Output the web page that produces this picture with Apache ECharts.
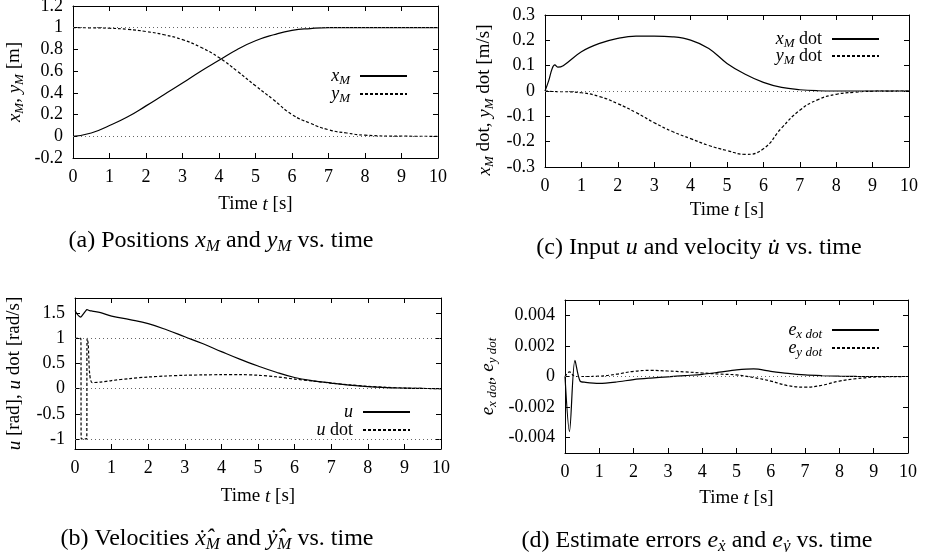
<!DOCTYPE html>
<html><head><meta charset="utf-8">
<script src="https://cdn.jsdelivr.net/npm/echarts@6/dist/echarts.min.js"></script>
<style>html,body{margin:0;padding:0;background:#fff}#c{width:933px;height:552px}</style>
</head><body><div id="c"></div>
<script>
// ---------- data ----------
// (a) positions
const tA = [0,0.5,1,1.5,2,2.5,3,3.5,4,4.5,5,5.5,6,6.5,7,7.5,8,9,10];
const xM = [0,0.03,0.1,0.18,0.28,0.385,0.49,0.6,0.7,0.8,0.88,0.935,0.975,0.992,1.0,1,1,1,1];
const yM = [1,0.999,0.995,0.985,0.965,0.935,0.89,0.82,0.725,0.6,0.465,0.335,0.2,0.12,0.06,0.03,0.01,0.001,0];
// (c) velocities
const tC = [0,0.1,0.2,0.27,0.35,0.5,1,1.5,2,2.5,3,3.5,4,4.5,5,5.5,6,6.5,7,7.5,8,8.5,9,10];
const xMdot = [0,0.04,0.09,0.103,0.094,0.1,0.155,0.188,0.208,0.217,0.217,0.214,0.201,0.168,0.109,0.066,0.034,0.014,0.005,0.001,0,0,0,0];
const yMdot = [0,-0.001,-0.002,-0.002,-0.003,-0.003,-0.007,-0.022,-0.05,-0.085,-0.125,-0.16,-0.188,-0.215,-0.235,-0.25,-0.228,-0.146,-0.076,-0.034,-0.013,-0.005,-0.001,0];
// (b) input u and u dot
const tB = [0,0.16,0.17,0.32,0.33,0.36,0.4,0.47,0.7,1,1.5,2,2.5,3,3.5,4,4.5,5,5.5,6,6.5,7,7.5,8,8.5,9,9.5,10];
const u = [1.55,1.42,1.43,1.57,1.575,1.56,1.55,1.54,1.51,1.44,1.37,1.29,1.17,1.03,0.89,0.735,0.585,0.45,0.325,0.22,0.155,0.11,0.07,0.04,0.02,0.01,0.003,0];
const uDot = [1,1,-1,-1,1,0.9,0.3,0.12,0.13,0.16,0.2,0.23,0.25,0.265,0.272,0.277,0.278,0.265,0.235,0.19,0.15,0.11,0.075,0.045,0.025,0.01,0.003,0];
// (d) estimate errors
const tD = [0,0.13,0.29,0.44,0.6,1,1.5,2,2.5,3,3.5,4,4.5,5,5.5,6,6.5,7,7.5,8,8.5,9,10];
const exDot = [0,-0.0036,0.00105,-0.0003,-0.00038,-0.00045,-0.00036,-0.0002,-0.0001,-0.00002,0.00006,0.00014,0.00028,0.00043,0.0005,0.00034,0.0002,0.0001,0.00005,0.00002,0.000005,0,0];
const eyDot = [0,0.0003,0,0,0,0.00002,0.00015,0.00034,0.0004,0.00036,0.0003,0.00023,0.00016,0.0001,-0.00007,-0.0003,-0.0006,-0.0007,-0.00057,-0.0003,-0.00014,-0.00004,0];
// tick values
const yTicksB = [-1,-0.5,0,0.5,1,1.5];
const yTicksD = [-0.004,-0.002,0,0.002,0.004];
// texts
const captions = [
  '{n|(a) Positions }{i|x}{s|M}{n| and }{i|y}{s|M}{n| vs. time}',
  '{n|(c) Input }{i|u}{n| and velocity }{i|u\u0307}{n| vs. time}',
  '{n|(b) Velocities }{i|x\u0307\u0302}{s|M}{n| and }{i|y\u0307\u0302}{s|M}{n| vs. time}',
  '{n|(d) Estimate errors }{i|e}{s|x\u0307}{n| and }{i|e}{s|y\u0307}{n| vs. time}'
];
const yNames = [
  '{i|x}{s|M}{n|, }{i|y}{s|M}{n| [m]}',
  '{i|x}{s|M}{n| dot, }{i|y}{s|M}{n| dot [m/s]}',
  '{i|u}{n| [rad], }{i|u}{n| dot [rad/s]}',
  '{i|e}{s|x dot}{n|, }{i|e}{s|y dot}'
];
const xName = '{n|Time }{i|t}{n| [s]}';
const legendLabels = {
  xM: '{i|x}{s|M}', yM: '{i|y}{s|M}',
  xMdot: '{i|x}{s|M}{n| dot}', yMdot: '{i|y}{s|M}{n| dot}',
  u: '{i|u}', udot: '{i|u}{n| dot}',
  exdot: '{i|e}{s|x dot}', eydot: '{i|e}{s|y dot}'
};

// ---------- styles ----------
const FONT = '"Liberation Serif","Times New Roman",serif';
function rich(fs, sub, drop) {
  return {
    n: {fontFamily: FONT, fontSize: fs, color: '#000', lineHeight: fs + 4},
    i: {fontFamily: FONT, fontSize: fs, fontStyle: 'italic', color: '#000', lineHeight: fs + 4},
    s: {fontFamily: FONT, fontSize: sub, fontStyle: 'italic', color: '#000', lineHeight: sub - drop, verticalAlign: 'bottom'}
  };
}
const R18 = rich(18, 13, 2);
const R19 = rich(19, 13, 2);
const R24 = rich(24, 17, 2);

const grids = [
  {left: 73, right: 495, top: 6, bottom: 394},
  {left: 545, right: 24, top: 15, bottom: 385},
  {left: 75, right: 492, top: 298, bottom: 103},
  {left: 565, right: 25, top: 300, bottom: 99}
];
const yCfg = [
  {min: -0.2, max: 1.2, interval: 0.2, gap: 47, pad: 0},
  {min: -0.3, max: 0.3, interval: 0.1, gap: 49, pad: 18},
  {min: -1.2, max: 1.8, ticks: yTicksB, gap: 49, pad: 0},
  {min: -0.005, max: 0.005, ticks: yTicksD, gap: 66, pad: 0}
];
const xNameGap = [35, 32, 36, 34];

const xAxes = [], yAxes = [];
grids.forEach((g, i) => {
  const base = {
    type: 'value', gridIndex: i, min: 0, max: 10, interval: 1,
    axisLine: {onZero: false, lineStyle: {color: '#000', width: 1}},
    axisTick: {inside: true, length: 5, lineStyle: {color: '#000', width: 1}},
    splitLine: {show: false}
  };
  xAxes.push(Object.assign({}, base, {
    position: 'bottom',
    axisLabel: {color: '#000', fontFamily: FONT, fontSize: 18, margin: 10},
    name: xName, nameLocation: 'middle', nameGap: xNameGap[i],
    nameTextStyle: {rich: R19}
  }));
  xAxes.push(Object.assign({}, base, {position: 'top', axisLabel: {show: false}}));
  const c = yCfg[i];
  const yb = {
    type: 'value', gridIndex: i, min: c.min, max: c.max,
    axisLine: {onZero: false, lineStyle: {color: '#000', width: 1}},
    axisTick: {inside: true, length: 5, lineStyle: {color: '#000', width: 1}},
    splitLine: {show: false}
  };
  if (c.interval) yb.interval = c.interval;
  if (c.ticks) yb.axisTick.customValues = c.ticks;
  yAxes.push(Object.assign({}, yb, {
    position: 'left',
    axisLabel: Object.assign({color: '#000', fontFamily: FONT, fontSize: 18, margin: 10},
      c.ticks ? {customValues: c.ticks} : {}),
    name: yNames[i], nameLocation: 'middle', nameGap: c.gap, nameRotate: 90,
    nameTextStyle: {rich: R19, padding: [0, c.pad, 0, 0]}
  }));
  yAxes.push(Object.assign({}, yb, {position: 'right', axisLabel: {show: false},
    axisTick: Object.assign({}, yb.axisTick)}));
});

const dotted = {type: [1, 3], color: '#666', width: 1};
function mk(vals) {
  return {silent: true, symbol: ['none', 'none'], label: {show: false}, lineStyle: dotted,
    animation: false, data: vals.map(v => ({yAxis: v}))};
}
function line(name, t, v, gi, dashed, smooth, marks) {
  const s = {
    name, type: 'line', xAxisIndex: gi * 2, yAxisIndex: gi * 2,
    data: t.map((x, k) => [x, v[k]]),
    symbol: 'none', showSymbol: false, smooth: smooth,
    lineStyle: {color: '#000', width: 1.2, type: dashed ? [3, 2] : 'solid'},
    itemStyle: {color: '#000'},
    animation: false
  };
  if (marks) s.markLine = mk(marks);
  return s;
}
const series = [
  line('xM', tA, xM, 0, false, 0.5, [0, 1]),
  line('yM', tA, yM, 0, true, 0.5),
  line('xMdot', tC, xMdot, 1, false, 0.4, [0]),
  line('yMdot', tC, yMdot, 1, true, 0.5),
  line('u', tB, u, 2, false, 0.4, [-1, 0, 1]),
  line('udot', tB, uDot, 2, true, 0.3),
  line('exdot', tD, exDot, 3, false, 0.3, [0]),
  line('eydot', tD, eyDot, 3, true, 0.4)
];

const legendPos = [
  ['xM', 525, 74], ['yM', 525, 92],
  ['xMdot', 53, 37], ['yMdot', 53, 54],
  ['u', 522, 410], ['udot', 522, 428],
  ['exdot', 53, 328], ['eydot', 53, 346]
];
const legends = legendPos.map(([nm, r, cy]) => ({
  data: [nm], orient: 'horizontal', align: 'right', right: r, top: cy - 7,
  padding: 0, itemWidth: 47, itemHeight: 14, selectedMode: false,
  itemStyle: {opacity: 0, color: 'rgba(0,0,0,0)', borderWidth: 0},
  formatter: n => legendLabels[n] + '{g|}',
  textStyle: {rich: Object.assign({g: {width: 5}}, R18)}
}));

const capPos = [[221, 241], [699, 248], [217, 539], [697, 541]];
const graphic = captions.map((txt, i) => ({
  type: 'text', x: capPos[i][0], y: capPos[i][1],
  style: {text: txt, rich: R24, fontFamily: FONT, fontSize: 24, fill: '#000',
    align: 'center', verticalAlign: 'middle', textAlign: 'center', textVerticalAlign: 'middle'}
}));

const chart = echarts.init(document.getElementById('c'));
chart.setOption({
  animation: false,
  backgroundColor: '#fff',
  grid: grids.map(g => Object.assign({outerBoundsMode: 'none', containLabel: false}, g)),
  xAxis: xAxes, yAxis: yAxes,
  legend: legends,
  series, graphic
});
</script></body></html>
